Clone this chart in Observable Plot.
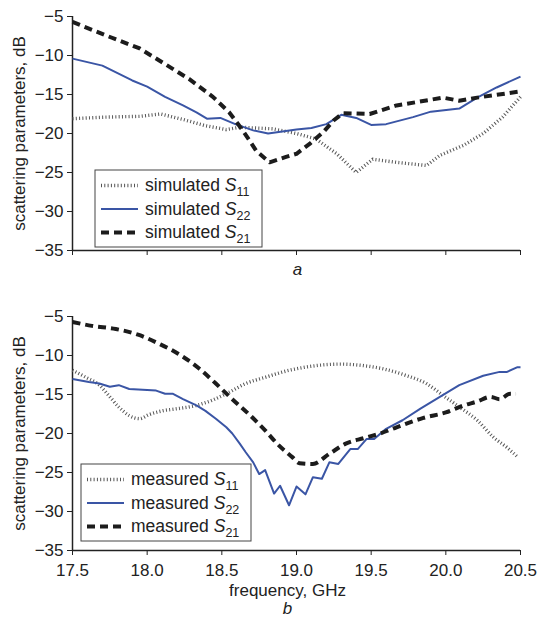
<!DOCTYPE html>
<html><head><meta charset="utf-8">
<script src="https://cdn.jsdelivr.net/npm/d3@7"></script>
<script src="https://cdn.jsdelivr.net/npm/@observablehq/plot@0.6"></script>
<style>
body{margin:0;background:#fff;}
#chart{width:539px;}
svg{display:block;}
</style></head><body><div id="chart"></div>
<script>
// ---- axis ticks ----
const xTicks = [17.5, 18.0, 18.5, 19.0, 19.5, 20.0, 20.5];
const yTicks = [-35, -30, -25, -20, -15, -10, -5];
const xLabel = "frequency, GHz";
const yLabel = "scattering parameters, dB";

// ---- panel a: simulated ----
const simS11f = [17.5, 17.72, 17.95, 18.09, 18.24, 18.39, 18.53, 18.62, 18.84, 19.0, 19.13, 19.27, 19.40, 19.51, 19.67, 19.87, 19.96, 20.12, 20.25, 20.38, 20.5];
const simS11v = [-18.1, -17.9, -17.8, -17.5, -18.2, -19.0, -19.5, -19.2, -19.4, -20.0, -20.7, -22.6, -25.0, -23.3, -23.7, -24.1, -22.8, -21.5, -20.0, -17.9, -15.3];
const simS22f = [17.5, 17.70, 17.90, 18.0, 18.12, 18.24, 18.33, 18.40, 18.49, 18.59, 18.71, 18.81, 19.0, 19.10, 19.20, 19.30, 19.40, 19.50, 19.60, 19.78, 19.90, 20.09, 20.21, 20.34, 20.5];
const simS22v = [-10.4, -11.3, -13.2, -14.0, -15.3, -16.4, -17.3, -18.1, -18.0, -18.8, -19.6, -20.0, -19.5, -19.3, -18.8, -17.6, -18.0, -18.9, -18.8, -17.9, -17.2, -16.8, -15.4, -14.1, -12.7];
const simS21f = [17.5, 17.72, 17.95, 18.12, 18.28, 18.44, 18.55, 18.64, 18.73, 18.82, 18.93, 19.0, 19.09, 19.18, 19.25, 19.31, 19.49, 19.67, 19.89, 19.98, 20.09, 20.21, 20.5];
const simS21v = [-5.7, -7.4, -9.1, -11.1, -13.0, -15.3, -17.3, -19.6, -22.2, -23.7, -23.0, -22.6, -21.3, -19.8, -18.3, -17.4, -17.5, -16.4, -15.7, -15.4, -15.8, -15.4, -14.6];

// ---- panel b: measured ----
const meaS11f = [17.5, 17.59, 17.68, 17.75, 17.81, 17.88, 17.95, 18.01, 18.10, 18.21, 18.33, 18.44, 18.55, 18.66, 18.79, 18.95, 19.0, 19.13, 19.29, 19.45, 19.60, 19.74, 19.87, 19.98, 20.09, 20.21, 20.32, 20.41, 20.48];
const meaS11v = [-11.9, -12.8, -13.8, -15.3, -16.6, -17.7, -18.1, -17.6, -17.1, -16.8, -16.4, -15.7, -14.7, -13.6, -12.8, -11.9, -11.7, -11.3, -11.1, -11.3, -11.8, -12.6, -13.6, -15.1, -16.6, -18.3, -20.5, -21.8, -23.0];
const meaS22f = [17.5, 17.61, 17.68, 17.75, 17.81, 17.88, 17.97, 18.06, 18.12, 18.17, 18.24, 18.33, 18.39, 18.46, 18.53, 18.57, 18.62, 18.66, 18.71, 18.75, 18.79, 18.85, 18.89, 18.95, 19.0, 19.06, 19.11, 19.17, 19.22, 19.28, 19.36, 19.41, 19.47, 19.52, 19.60, 19.71, 19.83, 19.96, 20.09, 20.25, 20.36, 20.41, 20.48, 20.5];
const meaS22v = [-13.0, -13.4, -13.6, -14.0, -13.8, -14.3, -14.4, -14.5, -14.9, -14.9, -15.6, -16.4, -17.1, -18.1, -19.2, -20.0, -21.3, -22.4, -23.7, -25.2, -24.7, -27.7, -26.7, -29.2, -26.8, -27.8, -25.6, -25.8, -23.7, -23.9, -22.0, -22.0, -20.7, -20.7, -19.4, -18.3, -16.8, -15.3, -13.8, -12.6, -12.1, -12.1, -11.5, -11.5];
const meaS21f = [17.5, 17.63, 17.79, 17.95, 18.08, 18.21, 18.35, 18.46, 18.57, 18.68, 18.79, 18.88, 18.97, 19.02, 19.11, 19.22, 19.33, 19.45, 19.56, 19.67, 19.85, 20.0, 20.12, 20.21, 20.30, 20.36, 20.43, 20.47];
const meaS21v = [-5.7, -6.2, -6.6, -7.4, -8.5, -9.8, -11.7, -13.6, -15.6, -17.5, -19.6, -21.5, -23.0, -23.8, -23.9, -22.6, -21.3, -20.6, -20.0, -19.2, -18.0, -17.3, -16.4, -15.9, -15.3, -15.6, -14.9, -14.9];

const FONT = "'Liberation Sans', Arial, Helvetica, sans-serif";
const styles = {
  S11: {stroke: "#555", strokeWidth: 3.4, strokeDasharray: "1 2.3", strokeLinecap: "butt"},
  S22: {stroke: "#3a55a5", strokeWidth: 2, strokeLinecap: "butt"},
  S21: {stroke: "#1c1c1c", strokeWidth: 4, strokeDasharray: "8 5", strokeLinecap: "butt"}
};
const zip = (f, v) => f.map((x, i) => ({f: x, v: v[i]}));

function panel({sets, prefix, height, marginBottom, tickLabels, letter, letterDy, letterDx, legendTop, legendLeft, legendW, curve}) {
  const marks = [
    Plot.ruleX([17.5], {stroke: "#222", strokeWidth: 1.5}),
    Plot.ruleY([-35], {stroke: "#222", strokeWidth: 1.5}),
    Plot.axisY({ticks: yTicks, tickSize: 5, tickPadding: 4, fontSize: 17, label: null, stroke: "#222"}),
    tickLabels
      ? Plot.axisX({ticks: xTicks, tickSize: 5, tickPadding: 8, fontSize: 17, tickFormat: d3.format(".1f"), label: null})
      : Plot.axisX({ticks: xTicks, tickSize: 5, tickFormat: () => "", label: null}),
    Plot.text([yLabel], {frameAnchor: "left", textAnchor: "middle", lineAnchor: "middle", dx: -53, rotate: -90, fontSize: 17, letterSpacing: "0.55px"}),
    Plot.line(zip(sets.S11[0], sets.S11[1]), {x: "f", y: "v", curve: curve, ...styles.S11}),
    Plot.line(zip(sets.S22[0], sets.S22[1]), {x: "f", y: "v", curve: "linear", ...styles.S22}),
    Plot.line(zip(sets.S21[0], sets.S21[1]), {x: "f", y: "v", curve: curve, ...styles.S21}),
    Plot.text([letter], {frameAnchor: "bottom", dy: letterDy, dx: letterDx, fontStyle: "italic", fontSize: 17})
  ];
  if (tickLabels) marks.push(Plot.text([xLabel], {frameAnchor: "bottom", dy: 45, dx: -9, fontSize: 17, letterSpacing: "0.4px"}));
  const svg = Plot.plot({
    width: 539, height, marginLeft: 72, marginRight: 19, marginTop: 16, marginBottom,
    x: {domain: [17.5, 20.5]},
    y: {domain: [-35, -5]},
    style: {fontFamily: FONT, fontSize: "17px", color: "#222", background: "#fff", overflow: "visible"},
    marks
  });
  // legend box
  const g = d3.select(svg).append("g").attr("font-family", FONT).attr("fill", "#222").attr("text-anchor", "start");
  g.append("rect").attr("x", legendLeft).attr("y", legendTop).attr("width", legendW).attr("height", 77)
    .attr("fill", "#fff").attr("stroke", "#444").attr("stroke-width", 1);
  ["S11", "S22", "S21"].forEach((k, i) => {
    const st = styles[k];
    const ys = legendTop + 15.5 + i * 23.5;
    g.append("line").attr("x1", legendLeft + 6).attr("x2", legendLeft + 43).attr("y1", ys).attr("y2", ys)
      .attr("stroke", st.stroke).attr("stroke-width", st.strokeWidth)
      .attr("stroke-dasharray", st.strokeDasharray || null);
    const t = g.append("text").attr("x", legendLeft + 50).attr("y", ys + 5.5).attr("font-size", 17.5);
    t.append("tspan").text(prefix + " ");
    t.append("tspan").attr("font-style", "italic").text("S");
    t.append("tspan").attr("font-size", 12.5).attr("dy", 5).text(k.slice(1));
  });
  return svg;
}

const root = document.getElementById("chart");
root.append(panel({
  sets: {S11: [simS11f, simS11v], S22: [simS22f, simS22v], S21: [simS21f, simS21v]},
  prefix: "simulated", height: 300, marginBottom: 50, tickLabels: false,
  letter: "a", letterDy: 24, letterDx: 1, legendTop: 170, legendLeft: 95, legendW: 167, curve: "linear"
}));
root.append(panel({
  sets: {S11: [meaS11f, meaS11v], S22: [meaS22f, meaS22v], S21: [meaS21f, meaS21v]},
  prefix: "measured", height: 321, marginBottom: 71, tickLabels: true,
  letter: "b", letterDy: 63, letterDx: -9, legendTop: 164, legendLeft: 81, legendW: 170, curve: "monotone-x"
}));
</script></body></html>
